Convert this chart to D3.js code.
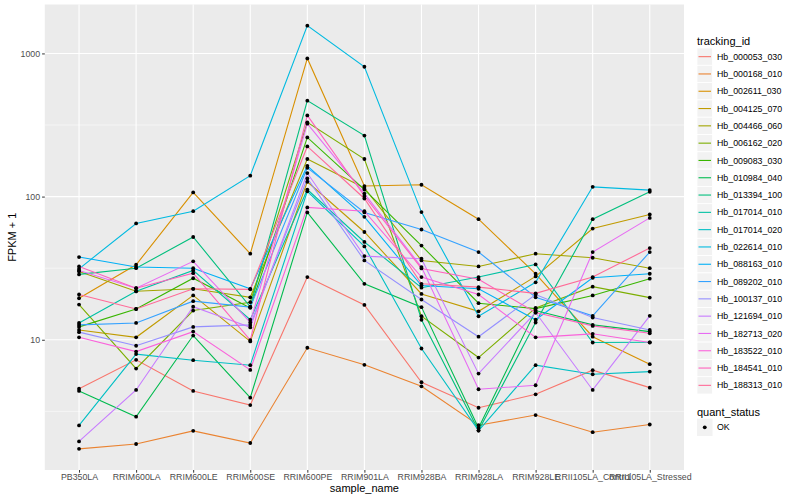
<!DOCTYPE html>
<html><head><meta charset="utf-8">
<script src="https://cdn.jsdelivr.net/npm/d3@7"></script>
<style>body{margin:0;background:#fff}text{font-family:"Liberation Sans",Arial,sans-serif}</style>
</head><body><svg id="c" width="800" height="500"></svg>
<script>
const samples = ["PB350LA","RRIM600LA","RRIM600LE","RRIM600SE","RRIM600PE","RRIM901LA","RRIM928BA","RRIM928LA","RRIM928LE","RRII105LA_Control","RRII105LA_Stressed"];
const trackingIds = ["Hb_000053_030","Hb_000168_010","Hb_002611_030","Hb_004125_070","Hb_004466_060","Hb_006162_020","Hb_009083_030","Hb_010984_040","Hb_013394_100","Hb_017014_010","Hb_017014_020","Hb_022614_010","Hb_088163_010","Hb_089202_010","Hb_100137_010","Hb_121694_010","Hb_182713_020","Hb_183522_010","Hb_184541_010","Hb_188313_010"];
const seriesColors = ["#F8766D","#EA8331","#D89000","#C09B00","#A3A500","#7CAE00","#39B600","#00BB4E","#00BF7D","#00C1A3","#00BFC4","#00BAE0","#00B0F6","#35A2FF","#9590FF","#C77CFF","#E76BF3","#FA62DB","#FF62BC","#FF6A98"];
const yTicks = [10, 100, 1000];
const yMinor = [3.1623, 31.623, 316.23];
const quantStatus = ["OK"];

// FPKM + 1 per sample (same order as samples)
const hb000053_030 = [4.55, 7.24, 4.39, 3.50, 27.4, 17.5, 5.05, 3.35, 4.16, 6.13, 4.63];
const hb000168_010 = [1.73, 1.87, 2.31, 1.90, 8.79, 6.68, 4.73, 2.53, 2.98, 2.26, 2.56];
const hb002611_030 = [19.5, 33.4, 107, 39.9, 923, 118.5, 121, 69.5, 28.9, 10.5, 6.75];
const hb004125_070 = [11.7, 10.4, 20.4, 9.73, 127, 56.6, 20.9, 15.8, 27.7, 59.8, 75.0];
const hb004466_060 = [30.0, 21.8, 22.7, 19.8, 183, 115, 35.8, 32.5, 39.9, 37.4, 31.6];
const hb006162_020 = [17.6, 6.29, 16.0, 18.3, 330, 183, 14.6, 7.51, 16.7, 23.5, 19.7];
const hb009083_030 = [12.3, 16.4, 26.9, 16.7, 259, 112, 45.5, 18.0, 16.5, 20.4, 26.7];
const hb010984_040 = [4.39, 2.90, 10.7, 3.94, 77.5, 24.6, 16.9, 2.42, 16.0, 12.7, 11.4];
const hb013394_100 = [28.6, 31.6, 52.2, 17.0, 468, 267, 13.8, 2.32, 13.2, 69.5, 108];
const hb017014_010 = [13.1, 21.8, 30.5, 13.8, 112, 48.2, 23.1, 27.4, 33.6, 9.57, 9.6];
const hb017014_020 = [2.52, 7.94, 7.20, 6.64, 109, 44.9, 8.69, 2.32, 6.64, 5.74, 5.99];
const hb022614_010 = [31.3, 64.9, 79.1, 140, 1563, 807, 77.9, 14.6, 25.2, 117, 111];
const hb088163_010 = [37.8, 32.2, 31.6, 22.7, 164, 72.2, 23.9, 22.7, 13.8, 27.1, 28.9];
const hb089202_010 = [12.7, 13.1, 18.6, 16.9, 159, 77.5, 58.9, 41.0, 19.8, 14.7, 41.0];
const hb100137_010 = [11.3, 9.08, 12.3, 12.7, 134, 35.8, 19.1, 10.5, 20.7, 14.3, 11.7];
const hb121694_010 = [1.95, 4.46, 17.0, 12.2, 146, 38.4, 36.8, 5.80, 15.5, 4.46, 14.7];
const hb182713_020 = [30.5, 22.9, 35.3, 13.2, 323, 105, 32.2, 4.51, 4.81, 41.0, 71.0];
const hb183522_010 = [10.4, 8.27, 11.4, 6.16, 84.0, 79.1, 27.4, 20.7, 10.4, 11.0, 9.57];
const hb184541_010 = [32.5, 22.9, 29.2, 9.95, 369, 101, 31.5, 26.5, 15.5, 12.5, 11.1];
const hb188313_010 = [20.7, 16.4, 22.7, 22.5, 224, 97, 24.6, 23.3, 21.1, 27.4, 43.7];

const seriesValues = [hb000053_030, hb000168_010, hb002611_030, hb004125_070, hb004466_060, hb006162_020, hb009083_030, hb010984_040, hb013394_100, hb017014_010, hb017014_020, hb022614_010, hb088163_010, hb089202_010, hb100137_010, hb121694_010, hb182713_020, hb183522_010, hb184541_010, hb188313_010];

const series = trackingIds.map((id, i) => ({
  id, color: seriesColors[i],
  pts: samples.map((s, j) => ({ s, v: seriesValues[i][j] }))
}));

const svg = d3.select("#c");
const P = { l: 44.8, r: 684, t: 4.5, b: 470 };

const x = d3.scalePoint().domain(samples).range([P.l, P.r]).padding(0.6);
const all = seriesValues.flat();
const lmin = Math.log10(d3.min(all)), lmax = Math.log10(d3.max(all));
const ex = (lmax - lmin) * 0.05;
const y = d3.scaleLog().domain([Math.pow(10, lmin - ex), Math.pow(10, lmax + ex)]).range([P.b, P.t]);

// panel
svg.append("rect").attr("x", P.l).attr("y", P.t).attr("width", P.r - P.l).attr("height", P.b - P.t).attr("fill", "#EBEBEB");
const g = svg.append("g");
g.selectAll(".ymin").data(yMinor).join("line")
  .attr("x1", P.l).attr("x2", P.r).attr("y1", d => y(d)).attr("y2", d => y(d))
  .attr("stroke", "#fff").attr("stroke-width", 0.55);
g.selectAll(".ymaj").data(yTicks).join("line")
  .attr("x1", P.l).attr("x2", P.r).attr("y1", d => y(d)).attr("y2", d => y(d))
  .attr("stroke", "#fff").attr("stroke-width", 1.1);
g.selectAll(".xmaj").data(samples).join("line")
  .attr("x1", d => x(d)).attr("x2", d => x(d)).attr("y1", P.t).attr("y2", P.b)
  .attr("stroke", "#fff").attr("stroke-width", 1.1);

// lines
const line = d3.line().x(d => x(d.s)).y(d => y(d.v));
svg.append("g").selectAll("path").data(series).join("path")
  .attr("d", d => line(d.pts)).attr("fill", "none")
  .attr("stroke", d => d.color).attr("stroke-width", 1.1);

// points
svg.append("g").selectAll("circle").data(series.flatMap(d => d.pts)).join("circle")
  .attr("cx", d => x(d.s)).attr("cy", d => y(d.v)).attr("r", 1.9).attr("fill", "#000");

// axes
const ya = svg.append("g").attr("transform", `translate(${P.l},0)`)
  .call(d3.axisLeft(y).tickValues(yTicks).tickFormat(d3.format("d")).tickSize(2.7).tickPadding(2));
const xa = svg.append("g").attr("transform", `translate(0,${P.b})`)
  .call(d3.axisBottom(x).tickSize(2.7).tickPadding(1.2));
[ya, xa].forEach(a => {
  a.select(".domain").remove();
  a.selectAll(".tick line").attr("stroke", "#333").attr("stroke-width", 1);
  a.selectAll(".tick text").attr("fill", "#4D4D4D").style("font-size", "8.8px").style("font-family", '"Liberation Sans",Arial,sans-serif');
});

svg.append("text").attr("x", (P.l + P.r) / 2).attr("y", 492).attr("text-anchor", "middle")
  .style("font-size", "11px").attr("fill", "#000").text("sample_name");
svg.append("text").attr("transform", `translate(16,${(P.t + P.b) / 2}) rotate(-90)`).attr("text-anchor", "middle")
  .style("font-size", "11px").attr("fill", "#000").text("FPKM + 1");

// legend
const lg = svg.append("g");
const LX = 697, KW = 15.5, KH = 17.3, K0 = 48;
lg.append("text").attr("x", LX).attr("y", 44.5).style("font-size", "11px").text("tracking_id");
const items = lg.selectAll(".k").data(series).join("g").attr("transform", (d, i) => `translate(${LX},${K0 + i * KH})`);
items.append("rect").attr("width", KW).attr("height", KH).attr("fill", "#F2F2F2").attr("stroke", "#fff").attr("stroke-width", 0.8);
items.append("line").attr("x1", 1.5).attr("x2", KW - 1.5).attr("y1", KH / 2).attr("y2", KH / 2).attr("stroke", d => d.color).attr("stroke-width", 1.1);
items.append("text").attr("x", KW + 4.5).attr("y", KH / 2 + 3.1).style("font-size", "8.8px").attr("fill", "#000").text(d => d.id);

lg.append("text").attr("x", LX).attr("y", 415.5).style("font-size", "11px").text("quant_status");
const qi = lg.selectAll(".q").data(quantStatus).join("g").attr("transform", (d, i) => `translate(${LX},${418.7 + i * KH})`);
qi.append("rect").attr("width", KW).attr("height", KH).attr("fill", "#F2F2F2");
qi.append("circle").attr("cx", KW / 2).attr("cy", KH / 2).attr("r", 1.9).attr("fill", "#000");
qi.append("text").attr("x", KW + 4.5).attr("y", KH / 2 + 3.1).style("font-size", "8.8px").text(d => d);
</script></body></html>
